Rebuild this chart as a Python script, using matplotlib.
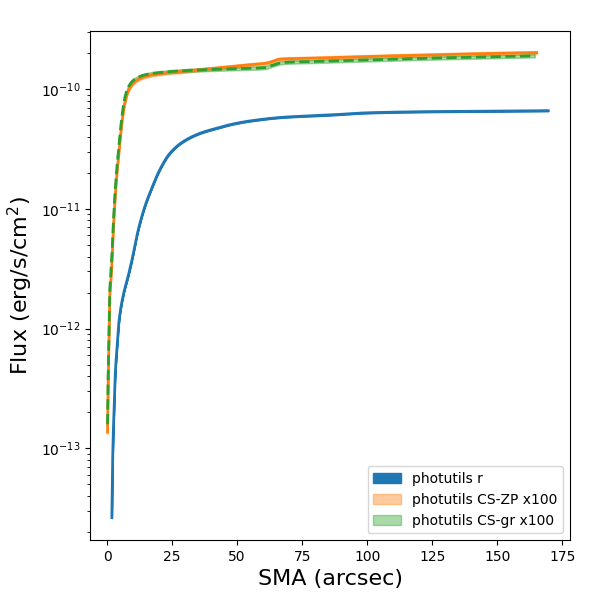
import matplotlib
matplotlib.use('Agg')
import matplotlib.pyplot as plt
import numpy as np

# curve of growth, photutils r band
sma_r = [1.8, 2.0, 2.2, 2.6, 3.0, 3.8, 4.6, 6.2, 8.1, 9.6, 11.9, 14.5, 17.1, 20.3, 24.1,
         29.2, 35.7, 42.1, 48.5, 54.9, 67.7, 85.7, 100, 124, 150, 169.6]
logflux_r = [-13.58, -13.25, -13.0, -12.71, -12.43, -12.154, -11.93, -11.72, -11.56, -11.42,
             -11.18, -10.98, -10.83, -10.67, -10.536, -10.438, -10.368, -10.326, -10.29,
             -10.265, -10.234, -10.215, -10.197, -10.187, -10.183, -10.179]

# CS-ZP x100
sma_zp = [0.15, 0.38, 0.65, 0.92, 1.3, 1.7, 2.3, 2.7, 3.6, 4.5, 5.5, 6.8, 8.3, 10.7, 14.5,
          19.6, 29.2, 35.7, 47.2, 55, 61.3, 63.5, 66.4, 80, 100, 125, 150, 165.2]
logflux_zp = [-12.865, -12.46, -12.154, -11.763, -11.63, -11.51, -11.205, -11.04, -10.745,
              -10.536, -10.313, -10.117, -10.006, -9.936, -9.894, -9.872, -9.850, -9.836,
              -9.812, -9.795, -9.782, -9.768, -9.749, -9.740, -9.727, -9.713, -9.70, -9.694]

# CS-gr x100
sma_gr = [0.15, 0.38, 0.65, 0.92, 1.3, 1.7, 2.3, 2.7, 3.6, 4.5, 5.5, 6.8, 8.3, 10.7, 14.5,
          19.6, 29.2, 35.7, 47.2, 55, 60.7, 63.5, 67.6, 80, 100, 125, 150, 164.5]
logflux_gr = [-12.80, -12.40, -12.10, -11.72, -11.58, -11.45, -11.15, -10.98, -10.69, -10.48,
              -10.26, -10.07, -9.975, -9.915, -9.88, -9.862, -9.845, -9.838, -9.830, -9.825,
              -9.819, -9.80, -9.777, -9.768, -9.755, -9.74, -9.728, -9.721]

#monotone cubic (pchip) so the read-off points join smoothly
def pchip(x, y, xs):
    x = np.asarray(x, float)
    y = np.asarray(y, float)
    h = np.diff(x)
    d = np.diff(y) / h
    m = np.zeros_like(y)
    for k in range(1, len(x)-1):
        if d[k-1]*d[k] > 0:
            w1 = 2*h[k] + h[k-1]
            w2 = h[k] + 2*h[k-1]
            m[k] = (w1 + w2) / (w1/d[k-1] + w2/d[k])
    m[0] = d[0]
    m[-1] = d[-1]
    idx = np.clip(np.searchsorted(x, xs) - 1, 0, len(x)-2)
    t = (xs - x[idx]) / h[idx]
    h00 = 2*t**3 - 3*t**2 + 1
    h10 = t**3 - 2*t**2 + t
    h01 = -2*t**3 + 3*t**2
    h11 = t**3 - t**2
    return h00*y[idx] + h10*h[idx]*m[idx] + h01*y[idx+1] + h11*h[idx]*m[idx+1]

def smooth(x, logy):
    xs = np.linspace(x[0], x[-1], 1500)
    return xs, 10**pchip(x, logy, xs)

fig, ax = plt.subplots(figsize=(6, 6), dpi=100)
fig.subplots_adjust(left=0.15, right=0.95, bottom=0.1, top=0.949)

xr, yr = smooth(sma_r, logflux_r)
xz, yz = smooth(sma_zp, logflux_zp)
xg, yg = smooth(sma_gr, logflux_gr)

ax.fill_between(xr, yr*0.99, yr*1.01, color='tab:blue', alpha=1, label='photutils r')
ax.fill_between(xz, yz*0.97, yz*1.03, color='tab:orange', alpha=0.4, label='photutils CS-ZP x100')
ax.fill_between(xg, yg*0.97, yg*1.03, color='tab:green', alpha=0.4, label='photutils CS-gr x100')
ax.plot(xr, yr, color='tab:blue', lw=2)
ax.plot(xz, yz, color='tab:orange', lw=2)
ax.plot(xg, yg, color='tab:green', lw=2, ls='--')

ax.set_yscale('log')
ax.set_xlim(-6.6, 178.0)
ax.set_ylim(10**-13.767, 10**-9.51)
ax.set_xlabel('SMA (arcsec)', fontsize=16)
ax.set_ylabel('Flux (erg/s/cm$^2$)', fontsize=16)
ax.legend(loc='lower right')

plt.savefig('out.png')
